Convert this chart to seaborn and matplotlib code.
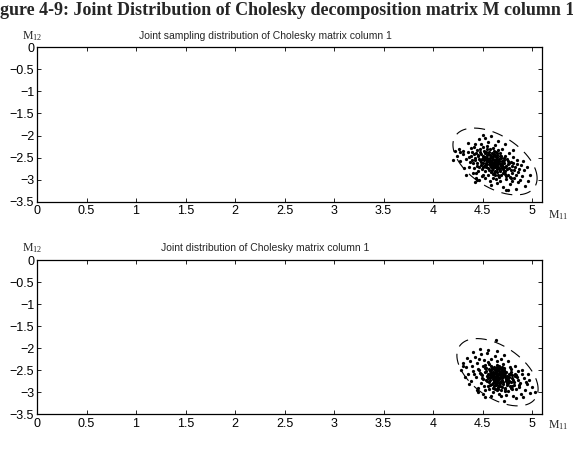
import numpy as np
import matplotlib
matplotlib.use('Agg')
import matplotlib.pyplot as plt
from matplotlib.ticker import FuncFormatter
import seaborn as sns

# sampled points, top panel (M11, M12)
top_m11 = [4.52, 4.55, 4.58, 4.61, 4.63, 4.57, 4.66, 4.49, 4.54, 4.60,
           4.62, 4.68, 4.71, 4.50, 4.45, 4.47, 4.53, 4.59, 4.64, 4.70,
           4.74, 4.56, 4.51, 4.43, 4.42, 4.48, 4.65, 4.69, 4.73, 4.77,
           4.76, 4.80, 4.58, 4.61, 4.67, 4.72, 4.55, 4.62, 4.52, 4.46,
           4.40, 4.38, 4.44, 4.50, 4.57, 4.63, 4.69, 4.75, 4.79, 4.83,
           4.86, 4.82, 4.74, 4.68, 4.60, 4.55, 4.49, 4.36, 4.33, 4.35,
           4.41, 4.48, 4.55, 4.62, 4.70, 4.77, 4.85, 4.89, 4.92, 4.90,
           4.86, 4.78, 4.71, 4.64, 4.58, 4.30, 4.27, 4.31, 4.26, 4.24,
           4.35, 4.46, 4.52, 4.58, 4.66, 4.73, 4.81, 4.95, 4.98, 4.96,
           4.93, 4.84, 4.74, 4.40, 4.43, 4.33, 4.22, 4.20, 4.54, 4.59,
           4.64, 4.57, 4.53, 4.60, 4.66, 4.62, 4.56, 4.51, 4.69, 4.65,
           4.58, 4.48, 4.53, 4.59, 4.71, 4.75, 4.79, 4.73, 4.67, 4.61,
           4.64, 4.68, 4.44, 4.39, 4.47, 4.81, 4.87, 4.84, 4.52, 4.57,
           4.45, 4.41, 4.37, 4.76, 4.80, 4.72, 4.66, 4.60, 4.54, 4.42,
           4.38, 4.91, 4.88, 4.80, 4.50, 4.46,
           4.56, 4.61, 4.63, 4.59, 4.54, 4.50, 4.67, 4.70, 4.57, 4.62,
           4.65, 4.53, 4.60, 4.68, 4.50, 4.76, 4.44, 4.42, 4.27, 4.30,
           4.55, 4.60, 4.65, 4.70, 4.50, 4.45, 4.58, 4.63, 4.68, 4.73,
           4.53, 4.48, 4.62, 4.57, 4.67, 4.72, 4.77, 4.52, 4.47, 4.42,
           4.60, 4.66, 4.71, 4.56, 4.51, 4.61, 4.64, 4.69, 4.54, 4.59,
           4.74, 4.78, 4.82, 4.49, 4.44, 4.39, 4.63, 4.58, 4.68, 4.73,
           4.55, 4.60, 4.65, 4.50, 4.70, 4.76, 4.81, 4.46, 4.41, 4.57,
           4.62, 4.67, 4.53, 4.72, 4.85, 4.79, 4.36, 4.43, 4.64, 4.59]
top_m12 = [-2.48, -2.55, -2.60, -2.63, -2.58, -2.66, -2.70, -2.52, -2.44, -2.52,
           -2.71, -2.64, -2.76, -2.61, -2.47, -2.56, -2.70, -2.77, -2.49, -2.58,
           -2.68, -2.38, -2.35, -2.40, -2.55, -2.66, -2.82, -2.88, -2.80, -2.74,
           -2.90, -2.84, -2.46, -2.41, -2.53, -2.62, -2.74, -2.90, -2.80, -2.72,
           -2.62, -2.45, -2.32, -2.26, -2.30, -2.36, -2.45, -2.52, -2.60, -2.70,
           -2.82, -2.95, -2.98, -3.02, -2.96, -2.88, -2.92, -2.70, -2.53, -2.36,
           -2.25, -2.18, -2.15, -2.22, -2.30, -2.40, -2.55, -2.66, -2.78, -2.92,
           -3.05, -3.10, -3.15, -3.08, -3.12, -2.42, -2.58, -2.74, -2.30, -2.47,
           -2.16, -2.08, -2.05, -2.02, -2.12, -2.20, -2.32, -2.70, -2.88, -3.02,
           -3.14, -3.20, -3.24, -2.85, -2.95, -2.90, -2.35, -2.55, -2.58, -2.55,
           -2.66, -2.50, -2.62, -2.68, -2.60, -2.56, -2.64, -2.56, -2.69, -2.75,
           -2.72, -2.42, -2.36, -2.40, -2.70, -2.75, -2.78, -2.86, -2.94, -2.84,
           -2.44, -2.40, -2.62, -2.54, -2.31, -2.48, -2.76, -2.88, -2.95, -3.02,
           -2.80, -2.73, -2.60, -2.64, -2.68, -2.50, -2.32, -2.28, -2.24, -2.18,
           -2.29, -2.58, -3.00, -3.02, -2.88, -3.00,
           -2.53, -2.59, -2.64, -2.62, -2.51, -2.46, -2.57, -2.66, -2.57, -2.47,
           -2.70, -2.67, -2.74, -2.79, -1.98, -3.22, -3.00, -3.05, -2.38, -2.34,
           -2.57, -2.61, -2.67, -2.73, -2.50, -2.43, -2.69, -2.52, -2.77, -2.71,
           -2.65, -2.59, -2.79, -2.44, -2.62, -2.55, -2.63, -2.39, -2.37, -2.50,
           -2.86, -2.88, -2.84, -2.78, -2.68, -2.34, -2.55, -2.50, -2.31, -2.64,
           -2.92, -2.93, -2.78, -2.76, -2.68, -2.38, -2.97, -2.82, -2.46, -2.45,
           -2.42, -2.45, -2.40, -2.70, -2.62, -2.57, -2.62, -2.52, -2.42, -2.60,
           -2.66, -2.73, -2.52, -2.81, -2.64, -2.95, -2.48, -2.85, -2.61, -2.48]

# sampled points, bottom panel
bot_m11 = [4.60, 4.64, 4.67, 4.70, 4.62, 4.58, 4.66, 4.72, 4.69, 4.63,
           4.55, 4.52, 4.74, 4.77, 4.68, 4.61, 4.57, 4.65, 4.71, 4.75,
           4.80, 4.82, 4.78, 4.73, 4.66, 4.59, 4.53, 4.49, 4.46, 4.50,
           4.56, 4.61, 4.67, 4.72, 4.79, 4.85, 4.88, 4.84, 4.76, 4.69,
           4.62, 4.55, 4.48, 4.43, 4.40, 4.44, 4.51, 4.58, 4.65, 4.71,
           4.78, 4.86, 4.92, 4.95, 4.93, 4.89, 4.81, 4.74, 4.67, 4.60,
           4.52, 4.45, 4.38, 4.35, 4.33, 4.37, 4.42, 4.48, 4.54, 4.62,
           4.69, 4.76, 4.83, 4.90, 4.97, 5.00, 4.98, 4.91, 4.84, 4.30,
           4.28, 4.32, 4.40, 4.47, 4.55, 4.64, 4.72, 4.58, 4.50, 4.45,
           4.64, 4.68, 4.61, 4.66, 4.70, 4.63, 4.59, 4.74, 4.71, 4.67,
           4.62, 4.57, 4.54, 4.69, 4.73, 4.77, 4.80, 4.65, 4.60, 4.56,
           4.52, 4.49, 4.63, 4.68, 4.75, 4.81, 4.86, 4.83, 4.79, 4.70,
           4.64, 4.58, 4.53, 4.47, 4.41, 4.39, 4.46, 4.90, 4.94, 4.87,
           4.80, 4.76, 4.71, 4.66, 4.61, 4.56, 4.51, 4.57, 4.62, 4.69,
           4.73, 4.66, 4.60, 4.55, 4.64, 4.70, 4.61, 4.67, 4.58, 4.74,
           4.63, 5.03, 4.30, 4.34, 4.36, 4.44, 4.52, 4.96, 4.69, 4.72,
           4.66, 4.70, 4.62, 4.74, 4.58, 4.68, 4.64, 4.72, 4.60, 4.76,
           4.55, 4.79, 4.67, 4.63, 4.71, 4.57, 4.82, 4.53, 4.69, 4.65,
           4.61, 4.75, 4.59, 4.73, 4.78, 4.50, 4.84, 4.56, 4.70, 4.64,
           4.68, 4.62, 4.77, 4.54, 4.72, 4.60, 4.80, 4.48, 4.66, 4.74,
           4.58, 4.69, 4.63, 4.87, 4.45, 4.71, 4.65, 4.76, 4.52, 4.67,
           4.61, 4.73, 4.57, 4.79, 4.68, 4.83, 4.55, 4.64, 4.70, 4.60]
bot_m12 = [-2.55, -2.60, -2.58, -2.66, -2.68, -2.50, -2.72, -2.62, -2.54, -2.48,
           -2.58, -2.45, -2.70, -2.75, -2.80, -2.76, -2.66, -2.64, -2.58, -2.63,
           -2.68, -2.78, -2.86, -2.90, -2.88, -2.82, -2.72, -2.62, -2.50, -2.40,
           -2.36, -2.42, -2.44, -2.50, -2.55, -2.66, -2.80, -2.94, -2.98, -2.96,
           -2.93, -2.86, -2.80, -2.66, -2.52, -2.35, -2.28, -2.25, -2.30, -2.36,
           -2.42, -2.52, -2.68, -2.82, -2.96, -3.05, -3.08, -3.06, -3.04, -3.00,
           -2.96, -2.90, -2.76, -2.60, -2.44, -2.30, -2.20, -2.14, -2.12, -2.18,
           -2.24, -2.30, -2.40, -2.50, -2.72, -2.88, -3.02, -3.12, -3.14, -2.35,
           -2.50, -2.66, -2.08, -2.02, -2.04, -2.06, -2.16, -3.10, -3.05, -3.00,
           -2.62, -2.61, -2.64, -2.67, -2.72, -2.57, -2.62, -2.67, -2.77, -2.52,
           -2.50, -2.53, -2.63, -2.48, -2.57, -2.60, -2.62, -2.76, -2.70, -2.77,
           -2.55, -2.68, -2.84, -2.86, -2.83, -2.73, -2.72, -2.60, -2.48, -2.42,
           -2.38, -2.40, -2.46, -2.56, -2.60, -2.40, -2.25, -2.60, -2.78, -2.88,
           -2.92, -2.80, -2.82, -2.92, -2.86, -2.94, -2.86, -2.60, -2.56, -2.58,
           -2.64, -2.70, -2.66, -2.68, -2.74, -2.54, -2.47, -2.46, -2.56, -2.76,
           -1.82, -3.00, -2.40, -2.22, -2.82, -2.95, -3.12, -2.58, -3.10, -3.20,
           -2.65, -2.60, -2.70, -2.70, -2.66, -2.55, -2.79, -2.52, -2.60, -2.69,
           -2.62, -2.77, -2.83, -2.53, -2.66, -2.72, -2.83, -2.52, -2.64, -2.56,
           -2.73, -2.80, -2.45, -2.92, -2.58, -2.70, -2.62, -2.48, -2.88, -2.44,
           -2.69, -2.80, -2.65, -2.74, -2.46, -2.90, -2.86, -2.58, -2.51, -2.55,
           -2.62, -2.74, -2.67, -2.85, -2.48, -2.61, -2.96, -2.72, -2.38, -2.40,
           -2.59, -2.98, -2.85, -2.90, -2.78, -2.63, -2.32, -2.94, -2.50, -2.80]

# contour ellipse: centre, half extents in M11 / M12, correlation
top_ell = dict(cx=4.625, cy=-2.585, a=0.425, b=0.755, rho=-0.5)
bot_ell = dict(cx=4.65, cy=-2.55, a=0.41, b=0.765, rho=-0.5)

x_ticks = [0, 0.5, 1, 1.5, 2, 2.5, 3, 3.5, 4, 4.5, 5]
y_ticks = [0, -0.5, -1, -1.5, -2, -2.5, -3, -3.5]

fig_title = 'gure 4-9: Joint Distribution of Cholesky decomposition matrix M column 1'
titles = ['Joint sampling distribution of Cholesky matrix column 1',
          'Joint distribution of Cholesky matrix column 1']

sns.set_style('ticks')
plt.rcParams['font.family'] = ['Liberation Sans', 'DejaVu Sans']
plt.rcParams.update({
    'xtick.direction': 'in', 'ytick.direction': 'in',
    'xtick.top': True, 'ytick.right': True,
    'xtick.major.size': 3, 'ytick.major.size': 3,
    'xtick.major.width': 0.6, 'ytick.major.width': 0.6,
    'xtick.color': 'black', 'ytick.color': 'black',
    'axes.edgecolor': 'black', 'axes.linewidth': 0.9,
    'xtick.labelsize': 9, 'ytick.labelsize': 9,
    'xtick.major.pad': 2.5, 'ytick.major.pad': 2,
})

fig = plt.figure(figsize=(5.73, 4.57), dpi=100)
ax1 = fig.add_axes([0.0646, 0.558, 0.8814, 0.339])
ax2 = fig.add_axes([0.0646, 0.094, 0.8814, 0.337])

fmt = FuncFormatter(lambda v, p: '{:g}'.format(v).replace('-', '\u2212'))
t = np.linspace(0, 2 * np.pi, 200)

for ax, xs, ys, e in [(ax1, top_m11, top_m12, top_ell), (ax2, bot_m11, bot_m12, bot_ell)]:
    sns.scatterplot(x=xs, y=ys, ax=ax, color='black', s=5.5, linewidth=0, marker='o')
    ex = e['cx'] + e['a'] * np.cos(t)
    ey = e['cy'] + e['b'] * (e['rho'] * np.cos(t) + np.sqrt(1 - e['rho'] ** 2) * np.sin(t))
    ax.plot(ex, ey, color='black', lw=0.8, dashes=(10, 7))
    ax.set_xlim(0, 5.1)
    ax.set_ylim(-3.5, 0)
    ax.set_xticks(x_ticks)
    ax.set_yticks(y_ticks)
    ax.xaxis.set_major_formatter(fmt)
    ax.yaxis.set_major_formatter(fmt)
    for s in ax.spines.values():
        s.set_visible(True)

fig.text(0.0, 0.978, fig_title, family='Liberation Serif', weight='bold',
         fontsize=13, ha='left', va='center')

for yy, ttl in zip([0.921, 0.457], titles):
    fig.text(0.4625, yy, ttl, fontsize=7.5, ha='center', va='center')
    fig.text(0.038, yy, r'$\mathregular{M_{12}}$', family='Liberation Serif',
             fontsize=8.5, ha='left', va='center')
for yy in [0.530, 0.070]:
    fig.text(0.956, yy, r'$\mathregular{M_{11}}$', family='Liberation Serif',
             fontsize=8.5, ha='left', va='center')

fig.savefig('out.png', dpi=100)
